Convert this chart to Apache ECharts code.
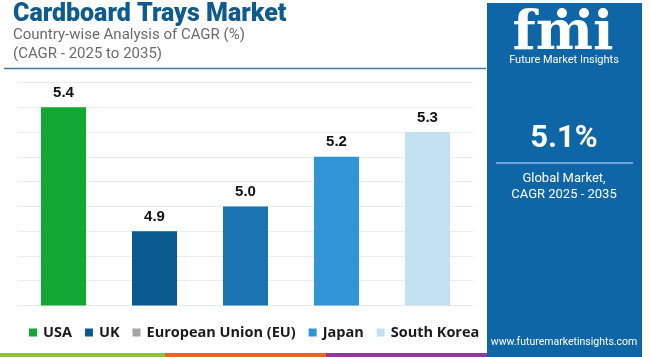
<!DOCTYPE html>
<html><head><meta charset="utf-8">
<script src="https://cdn.jsdelivr.net/npm/echarts@6/dist/echarts.min.js"></script>
<style>html,body{margin:0;padding:0;background:#fff}#c{width:650px;height:357px}</style>
</head><body><div id="c"></div>
<script>
const categories = ["USA", "UK", "European Union (EU)", "Japan", "South Korea"];
const values = [5.4, 4.9, 5.0, 5.2, 5.3];
const globalCagr = "5.1%";

const barColors = ["#12a833", "#0a5a8f", "#1b75b0", "#3194d6", "#c4e1f2"];
const legendColors = ["#12a833", "#0a5a8f", "#a6a6a6", "#3194d6", "#c4e1f2"];

const series = categories.map((name, i) => ({
  name: name,
  type: "bar",
  stack: "all",
  barWidth: 45,
  itemStyle: { color: legendColors[i] },
  label: { show: true, position: "top", distance: 7, color: "#111", fontFamily: "Liberation Sans", fontWeight: "bold", fontSize: 15,
    formatter: p => Number(p.value).toFixed(1) },
  data: categories.map((c, j) => j === i ? { value: values[i], itemStyle: { color: barColors[i] } } : "-")
}));

const chart = echarts.init(document.getElementById("c"), null, { renderer: "canvas" });
chart.setOption({
  animation: false,
  grid: { left: 18, right: 177, top: 82.5, bottom: 51.5 },
  xAxis: { type: "category", data: categories, axisLine: { show: false }, axisTick: { show: false }, axisLabel: { show: false } },
  yAxis: { type: "value", min: 4.6, max: 5.5, interval: 0.1, axisLabel: { show: false }, axisLine: { show: false }, axisTick: { show: false },
    splitLine: { lineStyle: { color: "#ececec", width: 1 } } },
  legend: {
    left: 24, top: 320, itemWidth: 8, itemHeight: 8, itemGap: 13, icon: "rect",
    textStyle: { fontFamily: "Open Sans", fontWeight: "bold", fontSize: 14.5, color: "#1a1a1a", padding: [0, 0, 0, 1] },
    data: categories
  },
  series: series,
  graphic: [
    { type: "text", left: 13, top: 2, style: { text: "Cardboard Trays Market", fontFamily: "Roboto", fontWeight: 900, fontSize: 25, fill: "#0f5b8e" } },
    { type: "text", left: 13, top: 28, style: { text: "Country-wise Analysis of CAGR (%)", fontFamily: "Roboto", fontSize: 15, fill: "#6b6b6b" } },
    { type: "text", left: 13, top: 47, style: { text: "(CAGR - 2025 to 2035)", fontFamily: "Roboto", fontSize: 15, fill: "#6b6b6b" } },
    { type: "line", shape: { x1: 4, y1: 68.5, x2: 486, y2: 68.5 }, style: { stroke: "#3a78a8", lineWidth: 1.5 } },
    { type: "rect", shape: { x: 487, y: 3, width: 155, height: 354 }, style: { fill: "#0f66a7" } },
    { type: "text", x: 563, y: 35, style: { text: "fmi", fontFamily: "DejaVu Serif", fontWeight: "bold", fontSize: 54, fill: "#fff", align: "center", verticalAlign: "middle" } },
    { type: "circle", shape: { cx: 562, cy: 13, r: 5 }, style: { fill: "#fff" } },
    { type: "circle", shape: { cx: 584, cy: 13, r: 5 }, style: { fill: "#fff" } },
    { type: "text", x: 564, y: 60, style: { text: "Future Market Insights", fontFamily: "Roboto", fontSize: 11, fill: "#fff", align: "center", verticalAlign: "middle" } },
    { type: "text", x: 564, y: 139, style: { text: globalCagr, fontFamily: "Roboto", fontWeight: "bold", fontSize: 31, fill: "#fff", align: "center", verticalAlign: "middle" } },
    { type: "line", shape: { x1: 496, y1: 163, x2: 633, y2: 163 }, style: { stroke: "#8fb9dc", lineWidth: 1.5 } },
    { type: "text", x: 564, y: 179, style: { text: "Global Market,", fontFamily: "Roboto", fontSize: 13, fill: "#fff", align: "center", verticalAlign: "middle" } },
    { type: "text", x: 564, y: 195, style: { text: "CAGR 2025 - 2035", fontFamily: "Roboto", fontSize: 13, fill: "#fff", align: "center", verticalAlign: "middle" } },
    { type: "text", x: 564, y: 342, style: { text: "www.futuremarketinsights.com", fontFamily: "Roboto", fontSize: 10.5, fill: "#fff", align: "center", verticalAlign: "middle" } },
    { type: "rect", shape: { x: 0, y: 353, width: 165, height: 4 }, style: { fill: "#8cc13f" } },
    { type: "rect", shape: { x: 165, y: 353, width: 161, height: 4 }, style: { fill: "#e2662c" } },
    { type: "rect", shape: { x: 326, y: 353, width: 161, height: 4 }, style: { fill: "#8c3b96" } }
  ]
});
</script></body></html>
